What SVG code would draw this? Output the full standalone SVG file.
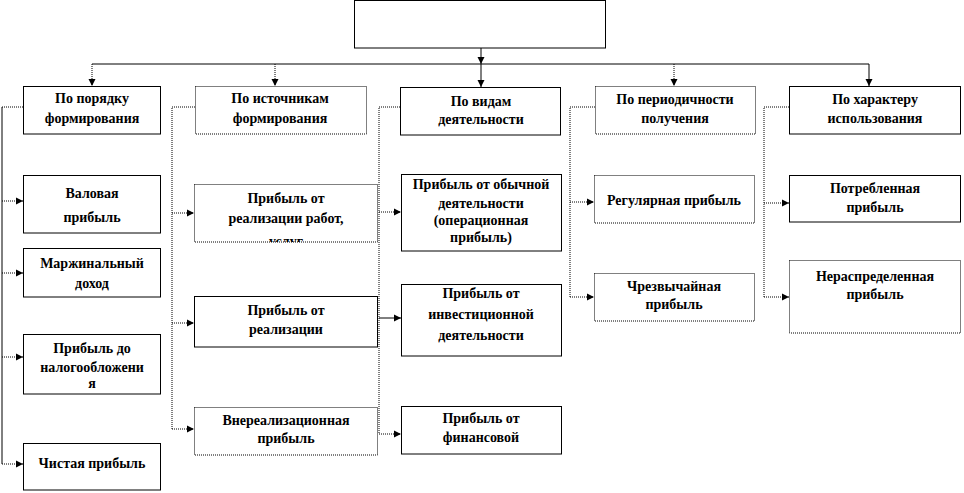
<svg xmlns="http://www.w3.org/2000/svg" width="964" height="493" viewBox="0 0 964 493">
<style>
.box{fill:#fff;stroke:#000;stroke-width:1}
.dbox{fill:#fff;stroke:#000;stroke-width:1;stroke-dasharray:1 1}
.t{font-family:'Liberation Serif','Times New Roman','DejaVu Serif',serif;font-weight:700;font-size:14px;text-anchor:middle;fill:#000}
.ln{fill:none;stroke:#000;stroke-width:1}
.dl{fill:none;stroke:#000;stroke-width:1;stroke-dasharray:1 1}
</style>
<defs>
<marker id="ah" markerUnits="userSpaceOnUse" markerWidth="8" markerHeight="8" refX="7" refY="4" orient="auto">
<path d="M0,0.5 L7,4 L0,7.5 Z" fill="#000"/>
</marker>
<clipPath id="c2a"><rect x="194" y="184" width="183" height="58"/></clipPath>
<clipPath id="c3c"><rect x="401" y="406" width="160" height="48"/></clipPath>
</defs>

<g id="connectors">
<line class="ln" x1="481" y1="48" x2="481" y2="64" marker-end="url(#ah)"/>
<line class="ln" x1="481" y1="64" x2="481" y2="87" marker-end="url(#ah)"/>
<line class="ln" x1="92" y1="64" x2="869" y2="64"/>
<line class="dl" x1="92" y1="64" x2="92" y2="86" marker-end="url(#ah)"/>
<line class="dl" x1="275" y1="64" x2="275" y2="86" marker-end="url(#ah)"/>
<line class="dl" x1="674" y1="64" x2="674" y2="86" marker-end="url(#ah)"/>
<line class="ln" x1="869" y1="64" x2="869" y2="86" marker-end="url(#ah)"/>

<path class="dl" d="M23,107 H2"/>
<path class="ln" d="M2,107 V464"/>
<line class="dl" x1="2" y1="201" x2="23" y2="201" marker-end="url(#ah)"/>
<line class="dl" x1="2" y1="273" x2="23" y2="273" marker-end="url(#ah)"/>
<line class="dl" x1="2" y1="357" x2="23" y2="357" marker-end="url(#ah)"/>
<line class="dl" x1="2" y1="464" x2="23" y2="464" marker-end="url(#ah)"/>

<path class="dl" d="M195,107 H172 V429"/>
<line class="dl" x1="172" y1="213" x2="194" y2="213" marker-end="url(#ah)"/>
<line class="dl" x1="172" y1="323" x2="194" y2="323" marker-end="url(#ah)"/>
<line class="dl" x1="172" y1="429" x2="194" y2="429" marker-end="url(#ah)"/>

<path class="dl" d="M400,107 H379 V434"/>
<line class="dl" x1="379" y1="212" x2="401" y2="212" marker-end="url(#ah)"/>
<line class="ln" x1="379" y1="318" x2="401" y2="318" marker-end="url(#ah)"/>
<line class="dl" x1="379" y1="434" x2="401" y2="434" marker-end="url(#ah)"/>

<path class="dl" d="M595,107 H570 V297"/>
<line class="dl" x1="570" y1="202" x2="594" y2="202" marker-end="url(#ah)"/>
<line class="dl" x1="570" y1="297" x2="594" y2="297" marker-end="url(#ah)"/>

<path class="dl" d="M789,107 H764 V297"/>
<line class="dl" x1="764" y1="203" x2="789" y2="203" marker-end="url(#ah)"/>
<line class="dl" x1="764" y1="297" x2="789" y2="297" marker-end="url(#ah)"/>
</g>

<g id="root"><rect class="box" x="354.5" y="0.5" width="251" height="47.5"/></g>

<g id="h1"><rect class="box" x="23.5" y="86.5" width="137" height="47.5"/>
<text class="t" x="92" y="103">По порядку</text><text class="t" x="92" y="123">формирования</text></g>
<g id="h2"><rect class="dbox" x="195.5" y="86.5" width="171" height="47.5"/>
<text class="t" x="280" y="103">По источникам</text><text class="t" x="280" y="123">формирования</text></g>
<g id="h3"><rect class="box" x="400.5" y="87.5" width="160" height="47.5"/>
<text class="t" x="481" y="106">По видам</text><text class="t" x="481" y="124">деятельности</text></g>
<g id="h4"><rect class="dbox" x="595.5" y="86.5" width="160" height="47.5"/>
<text class="t" x="675" y="104">По периодичности</text><text class="t" x="675" y="123">получения</text></g>
<g id="h5"><rect class="box" x="789.5" y="86.5" width="171" height="47.5"/>
<text class="t" x="875" y="104">По характеру</text><text class="t" x="875" y="123">использования</text></g>

<g id="c1a"><rect class="box" x="23.5" y="175.5" width="137" height="57.5"/>
<text class="t" x="92" y="198">Валовая</text><text class="t" x="92" y="222">прибыль</text></g>
<g id="c1b"><rect class="box" x="23.5" y="248.5" width="137" height="48.5"/>
<text class="t" x="92" y="268">Маржинальный</text><text class="t" x="92" y="288">доход</text></g>
<g id="c1c"><rect class="box" x="23.5" y="334.5" width="137" height="59.5"/>
<text class="t" x="92" y="353">Прибыль до</text><text class="t" x="92" y="372">налогообложени</text><text class="t" x="92" y="388">я</text></g>
<g id="c1d"><rect class="box" x="23.5" y="443.5" width="137" height="46.5"/>
<text class="t" x="92" y="468">Чистая прибыль</text></g>

<g id="c2a-node"><rect class="dbox" x="194.5" y="184.5" width="183" height="57.5"/>
<text class="t" x="286" y="203">Прибыль от</text><text class="t" x="286" y="223">реализации работ,</text>
<text class="t" x="286" y="246" clip-path="url(#c2a)">услуг</text></g>
<g id="c2b"><rect class="box" x="194.5" y="296.5" width="183" height="50.5"/>
<text class="t" x="286" y="315">Прибыль от</text><text class="t" x="286" y="334">реализации</text></g>
<g id="c2c"><rect class="dbox" x="194.5" y="407.5" width="183" height="47.5"/>
<text class="t" x="286" y="425">Внереализационная</text><text class="t" x="286" y="443">прибыль</text></g>

<g id="c3a"><rect class="box" x="401.5" y="174.5" width="160" height="76.5"/>
<text class="t" x="481" y="189">Прибыль от обычной</text><text class="t" x="481" y="208">деятельности</text>
<text class="t" x="481" y="225">(операционная</text><text class="t" x="481" y="242">прибыль)</text></g>
<g id="c3b"><rect class="box" x="401.5" y="284.5" width="160" height="71.5"/>
<text class="t" x="481" y="298">Прибыль от</text><text class="t" x="481" y="319">инвестиционной</text><text class="t" x="481" y="340">деятельности</text></g>
<g id="c3c-node"><rect class="box" x="401.5" y="406.5" width="160" height="47.5"/>
<text class="t" x="481" y="423">Прибыль от</text><text class="t" x="481" y="442" clip-path="url(#c3c)">финансовой</text></g>

<g id="c4a"><rect class="dbox" x="594.5" y="175.5" width="160" height="47.5"/>
<text class="t" x="674" y="205">Регулярная  прибыль</text></g>
<g id="c4b"><rect class="dbox" x="594.5" y="273.5" width="160" height="47.5"/>
<text class="t" x="674" y="291">Чрезвычайная</text><text class="t" x="674" y="309">прибыль</text></g>

<g id="c5a"><rect class="box" x="789.5" y="175.5" width="171" height="46.5"/>
<text class="t" x="875" y="193">Потребленная</text><text class="t" x="875" y="212">прибыль</text></g>
<g id="c5b"><rect class="dbox" x="789.5" y="260.5" width="171" height="72.5"/>
<text class="t" x="875" y="281">Нераспределенная</text><text class="t" x="875" y="299">прибыль</text></g>
</svg>
